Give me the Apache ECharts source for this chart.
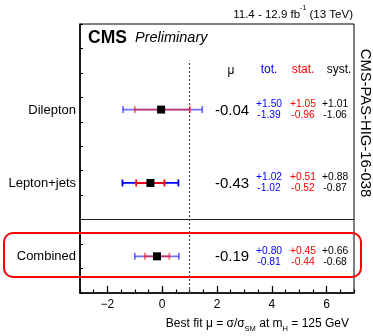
<!DOCTYPE html>
<html><head><meta charset="utf-8">
<script src="https://cdn.jsdelivr.net/npm/echarts@6/dist/echarts.min.js"></script>
<style>html,body{margin:0;padding:0;background:#fff}#c{width:373px;height:336px}</style>
</head><body><div id="c"></div>
<script>
const categories = ['Dilepton', 'Lepton+jets', 'Combined'];
const muValues = [-0.04, -0.43, -0.19];
const muLabels = ['-0.04', '-0.43', '-0.19'];
const totUp = [1.50, 1.02, 0.80];
const totDown = [1.39, 1.02, 0.81];
const statUp = [1.05, 0.51, 0.45];
const statDown = [0.96, 0.52, 0.44];
const systUp = [1.01, 0.88, 0.66];
const systDown = [1.06, 0.87, 0.68];
const xTickLabels = [-2, 0, 2, 4, 6];

const FONT = '"Liberation Sans", Arial, Helvetica, sans-serif';
const rowAlpha = [0.55, 1, 0.55];
const rowY = categories.map((c, i) => 7.5 - 3 * i);
const colX = { mu: 2.55, tot: 3.9, stat: 5.14, syst: 6.31 };
const f2 = v => v.toFixed(2);
const isMajor = v => xTickLabels.some(t => Math.abs(t - v) < 1e-6);

const barData = categories.map((c, i) => [
  muValues[i], rowY[i],
  muValues[i] - totDown[i], muValues[i] + totUp[i],
  muValues[i] - statDown[i], muValues[i] + statUp[i]
]);

function renderBars(params, api) {
  const i = params.dataIndex;
  const y = api.value(1);
  const P = v => api.coord([v, y]);
  const c = P(api.value(0));
  const t0 = P(api.value(2)), t1 = P(api.value(3));
  const s0 = P(api.value(4)), s1 = P(api.value(5));
  const a = rowAlpha[i];
  const blue = 'rgba(0,0,255,' + a + ')';
  const red = 'rgba(255,0,0,' + a + ')';
  const cap = 3.5, lw = 1.8;
  const ln = (x1, y1, x2, y2, col) => ({ type: 'line', shape: { x1, y1, x2, y2 }, style: { stroke: col, lineWidth: lw } });
  return {
    type: 'group',
    children: [
      ln(t0[0], t0[1], t1[0], t1[1], blue),
      ln(t0[0], t0[1] - cap, t0[0], t0[1] + cap, blue),
      ln(t1[0], t1[1] - cap, t1[0], t1[1] + cap, blue),
      ln(s0[0], s0[1], s1[0], s1[1], red),
      ln(s0[0], s0[1] - cap, s0[0], s0[1] + cap, red),
      ln(s1[0], s1[1] - cap, s1[0], s1[1] + cap, red),
      { type: 'rect', shape: { x: c[0] - 4, y: c[1] - 4, width: 8, height: 8 }, style: { fill: '#000' } }
    ]
  };
}

function renderText(params, api) {
  const i = params.dataIndex;
  const y = api.value(0);
  const P = v => api.coord([v, y]);
  const tx = (pt, dy, text, size, color, align) => ({
    type: 'text', x: pt[0], y: pt[1] + dy,
    style: { text, fontSize: size, fontFamily: FONT, fill: color, align: align || 'center', verticalAlign: 'middle' }
  });
  const left = P(-3);
  return {
    type: 'group',
    children: [
      tx([left[0] - 4, left[1]], 0.5, categories[i], 13, '#000', 'right'),
      tx(P(colX.mu), 1, muLabels[i], 15, '#000'),
      tx(P(colX.tot), -5.5, '+' + f2(totUp[i]), 10.3, '#0000ff'),
      tx(P(colX.tot), 5.5, '-' + f2(totDown[i]), 10.3, '#0000ff'),
      tx(P(colX.stat), -5.5, '+' + f2(statUp[i]), 10.3, '#ff0000'),
      tx(P(colX.stat), 5.5, '-' + f2(statDown[i]), 10.3, '#ff0000'),
      tx(P(colX.syst), -5.5, '+' + f2(systUp[i]), 10.3, '#000'),
      tx(P(colX.syst), 5.5, '-' + f2(systDown[i]), 10.3, '#000')
    ]
  };
}

const majorTickLines = xTickLabels.map(v => [
  { coord: [v, 0], lineStyle: { type: 'solid', color: '#000', width: 1.2 } },
  { coord: [v, 0.29] }
]);

const chart = echarts.init(document.getElementById('c'), null, { renderer: 'canvas' });
const option = {
  animation: false,
  backgroundColor: '#fff',
  textStyle: { fontFamily: FONT },
  grid: { left: 80, right: 19, top: 24, bottom: 43, show: true, borderColor: '#000', borderWidth: 1, backgroundColor: 'transparent' },
  xAxis: {
    type: 'value', min: -3, max: 7, interval: 0.5, position: 'bottom',
    axisLine: { show: true, onZero: false, lineStyle: { color: '#000', width: 1.6 } },
    axisTick: { show: true, inside: true, length: 3.5, lineStyle: { color: '#000', width: 1.2 } },
    axisLabel: { show: true, margin: 6, fontSize: 12, color: '#000', fontFamily: FONT, showMinLabel: true, showMaxLabel: true, hideOverlap: false,
      formatter: v => (isMajor(v) ? (v < 0 ? '\u2212' + Math.abs(v) : String(v)) : '') },
    splitLine: { show: false }
  },
  yAxis: {
    type: 'value', min: 0, max: 11, interval: 1,
    axisLine: { show: true, onZero: false, lineStyle: { color: '#000', width: 1.6 } },
    axisTick: { show: true, inside: true, length: 3, lineStyle: { color: '#000', width: 1 } },
    axisLabel: { show: false },
    splitLine: { show: false }
  },
  series: [
    {
      type: 'custom', renderItem: renderBars, data: barData, z: 5,
      markLine: {
        silent: true, symbol: 'none', label: { show: false },
        data: [
          [{ coord: [1, 0], lineStyle: { type: [2, 2], color: '#444', width: 1.2 } }, { coord: [1, 9.5] }],
          [{ coord: [-3, 3], lineStyle: { type: 'solid', color: '#222', width: 1 } }, { coord: [7, 3] }]
        ].concat(majorTickLines)
      }
    },
    {
      type: 'custom', renderItem: renderText, data: rowY.map(v => [v]), z: 6
    }
  ],
  graphic: [
    { type: 'text', right: 20, top: 5, style: { text: '{n|11.4 - 12.9 fb}{s|-1}{n| (13 TeV)}', fontFamily: FONT,
      rich: { n: { fontSize: 11.5, fontFamily: FONT, lineHeight: 16, verticalAlign: 'bottom', fill: '#000' },
              s: { fontSize: 7, fontFamily: FONT, lineHeight: 16, verticalAlign: 'top', fill: '#000' } } } },
    { type: 'text', x: 88, y: 38, style: { text: 'CMS', fontSize: 17.5, fontWeight: 'bold', fontFamily: FONT, fill: '#000', verticalAlign: 'middle' } },
    { type: 'text', x: 135, y: 38, style: { text: 'Preliminary', fontSize: 14.5, fontStyle: 'italic', fontFamily: FONT, fill: '#000', verticalAlign: 'middle' } },
    { type: 'text', x: 231, y: 71, style: { text: 'μ', fontSize: 12, fontFamily: FONT, fill: '#000', align: 'center', verticalAlign: 'middle' } },
    { type: 'text', x: 269, y: 70, style: { text: 'tot.', fontSize: 12, fontFamily: FONT, fill: '#0000ff', align: 'center', verticalAlign: 'middle' } },
    { type: 'text', x: 303, y: 70, style: { text: 'stat.', fontSize: 12, fontFamily: FONT, fill: '#ff0000', align: 'center', verticalAlign: 'middle' } },
    { type: 'text', x: 339, y: 70, style: { text: 'syst.', fontSize: 12, fontFamily: FONT, fill: '#000', align: 'center', verticalAlign: 'middle' } },
    { type: 'text', x: 365, y: 123, rotation: -Math.PI / 2, style: { text: 'CMS-PAS-HIG-16-038', fontSize: 14.8, fontFamily: FONT, fill: '#000', align: 'center', verticalAlign: 'middle' } },
    { type: 'text', right: 24, top: 318, style: { text: '{n|Best fit μ = σ/σ}{s|SM}{n| at m}{s|H}{n| = 125 GeV}', fontFamily: FONT,
      rich: { n: { fontSize: 12, fontFamily: FONT, lineHeight: 18, verticalAlign: 'middle', fill: '#000' },
              s: { fontSize: 7.5, fontFamily: FONT, lineHeight: 18, verticalAlign: 'bottom', fill: '#000' } } } },
    { type: 'rect', z: 10, shape: { x: 4, y: 233, width: 357, height: 44, r: 9 }, style: { fill: 'none', stroke: '#ff0000', lineWidth: 2 } }
  ]
};
chart.setOption(option);
</script>
</body></html>
